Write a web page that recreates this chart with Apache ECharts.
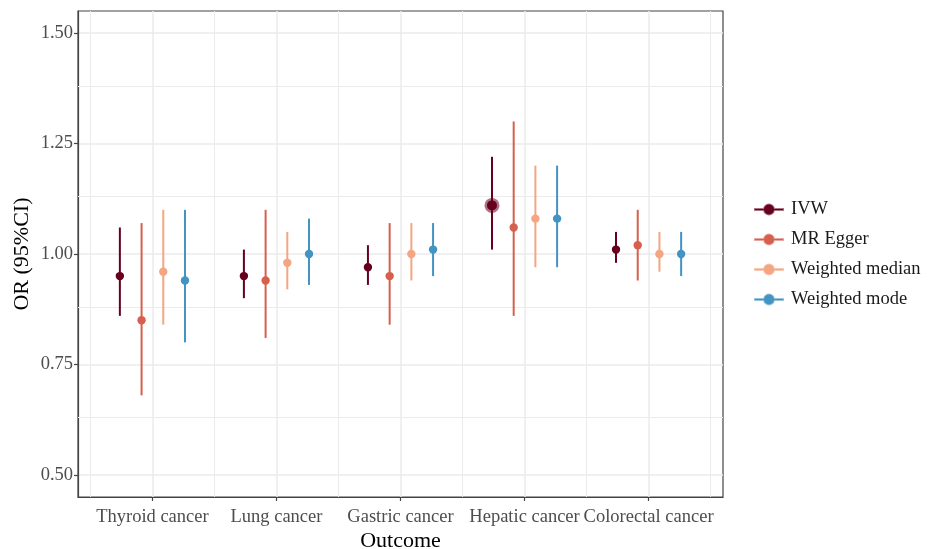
<!DOCTYPE html>
<html>
<head>
<meta charset="utf-8">
<script src="https://cdn.jsdelivr.net/npm/echarts@6/dist/echarts.min.js"></script>
<style>
  html, body { margin: 0; padding: 0; background: #fff; }
  #chart { width: 934px; height: 549px; }
</style>
</head>
<body>
<div id="chart"></div>
<script>
// outcomes on the x axis
const outcomes = ['Thyroid cancer', 'Lung cancer', 'Gastric cancer', 'Hepatic cancer', 'Colorectal cancer']
const methods = ['IVW', 'MR Egger', 'Weighted median', 'Weighted mode']

// OR estimates per method (same order as outcomes)
const orIVW = [0.95, 0.95, 0.97, 1.11, 1.01]
const orEgger = [0.85, 0.94, 0.95, 1.06, 1.02]
const orMedian = [0.96, 0.98, 1.00, 1.08, 1.00]
const orMode = [0.94, 1.00, 1.01, 1.08, 1.00]

// 95% CI lower bounds
const lowIVW = [0.86, 0.90, 0.93, 1.01, 0.98]
const lowEgger = [0.68, 0.81, 0.84, 0.86, 0.94]
const lowMedian = [0.84, 0.92, 0.94, 0.97, 0.96]
const lowMode = [0.80, 0.93, 0.95, 0.97, 0.95]

// 95% CI upper bounds
const upIVW = [1.06, 1.01, 1.02, 1.22, 1.05]
const upEgger = [1.07, 1.10, 1.07, 1.30, 1.10]
const upMedian = [1.10, 1.05, 1.07, 1.20, 1.05]
const upMode = [1.10, 1.08, 1.07, 1.20, 1.05]

// y axis ticks
const yTicks = [0.50, 0.75, 1.00, 1.25, 1.50]

const colors = ['#67001F', '#D6604D', '#F4A582', '#4393C3']
const ringColors = ['rgba(103,0,31,0.55)', 'rgba(214,96,77,0.55)', 'rgba(244,165,130,0.6)', 'rgba(67,147,195,0.55)']
const estimates = [orIVW, orEgger, orMedian, orMode]
const lowers = [lowIVW, lowEgger, lowMedian, lowMode]
const uppers = [upIVW, upEgger, upMedian, upMode]
// the point drawn bigger in the plot
const bigPoint = { method: 'IVW', outcome: 'Hepatic cancer' }

const font = 'Liberation Serif'
const dodge = 0.7

function renderItem(params, api) {
  const x = api.value(0)
  const top = api.coord([x, api.value(3)])
  const bot = api.coord([x, api.value(2)])
  const mid = api.coord([x, api.value(1)])
  const color = api.visual('color')
  const big = methods[params.seriesIndex] === bigPoint.method &&
    outcomes[params.dataIndex] === bigPoint.outcome
  const children = [
    { type: 'line', shape: { x1: top[0], y1: top[1], x2: bot[0], y2: bot[1] }, style: { stroke: color, lineWidth: 2 } }
  ]
  if (big) {
    children.push({ type: 'circle', shape: { cx: mid[0], cy: mid[1], r: 7.5 }, style: { fill: ringColors[params.seriesIndex] } })
    children.push({ type: 'circle', shape: { cx: mid[0], cy: mid[1], r: 5 }, style: { fill: color } })
  } else {
    children.push({ type: 'circle', shape: { cx: mid[0], cy: mid[1], r: 4.2 }, style: { fill: color } })
  }
  return { type: 'group', children: children }
}

const series = methods.map((m, k) => ({
  name: m,
  type: 'custom',
  z: 3,
  itemStyle: { color: colors[k] },
  renderItem: renderItem,
  data: outcomes.map((o, i) => [i + 1 + (k - 1.5) * dodge / methods.length, estimates[k][i], lowers[k][i], uppers[k][i]])
}))

// minor grid lines (ggplot style)
series.push({
  name: 'minor',
  type: 'custom',
  z: 1,
  silent: true,
  renderItem: () => null,
  data: [],
  markLine: {
    silent: true,
    z: 1,
    symbol: 'none',
    label: { show: false },
    lineStyle: { color: '#EBEBEB', width: 1, type: 'solid' },
    data: [0.625, 0.875, 1.125, 1.375].map(v => ({ yAxis: v }))
      .concat([0.5, 1.5, 2.5, 3.5, 4.5, 5.5].map(v => ({ xAxis: v })))
  }
})

const legendIcon = 'path://M0,6L28,6L28,7L0,7Z M9,6.5A5,5 0 1,1 19,6.5A5,5 0 1,1 9,6.5Z'

const myChart = echarts.init(document.getElementById('chart'))
const option = {
  backgroundColor: '#fff',
  animation: false,
  grid: {
    left: 78,
    right: 211,
    top: 11,
    bottom: 52,
    outerBoundsMode: 'none',
    show: true,
    borderColor: '#444',
    borderWidth: 1.2
  },
  legend: {
    orient: 'vertical',
    left: 749,
    top: 195,
    itemWidth: 28,
    itemHeight: 13,
    itemGap: 11,
    textStyle: { fontFamily: font, fontSize: 18.5, color: '#1a1a1a', lineHeight: 18, padding: [0, 0, 0, 3] },
    data: methods.map((m, k) => ({
      name: m,
      icon: legendIcon,
      itemStyle: { color: colors[k], borderColor: ringColors[k], borderWidth: 2 }
    }))
  },
  xAxis: {
    type: 'value',
    min: 0.4,
    max: 5.6,
    name: 'Outcome',
    nameLocation: 'middle',
    nameGap: 33,
    nameMoveOverlap: false,
    nameTextStyle: { fontFamily: font, fontSize: 22, color: '#000' },
    axisLine: { show: true, lineStyle: { color: '#444', width: 1.2 } },
    axisTick: { show: true, length: 4, customValues: [1, 2, 3, 4, 5], lineStyle: { color: '#444', width: 1.2 } },
    axisLabel: {
      customValues: [1, 2, 3, 4, 5],
      margin: 11,
      fontFamily: font,
      fontSize: 18.5,
      color: '#4D4D4D',
      formatter: v => outcomes[Math.round(v) - 1] || ''
    },
    splitLine: { show: true, lineStyle: { color: '#EBEBEB', width: 1.5 } }
  },
  yAxis: {
    type: 'value',
    min: 0.45,
    max: 1.55,
    name: 'OR (95%CI)',
    nameLocation: 'middle',
    nameGap: 45,
    nameMoveOverlap: false,
    nameTextStyle: { fontFamily: font, fontSize: 22, color: '#000' },
    axisLine: { show: true, lineStyle: { color: '#444', width: 1.2 } },
    axisTick: { show: true, length: 4, customValues: yTicks, lineStyle: { color: '#444', width: 1.2 } },
    axisLabel: {
      customValues: yTicks,
      margin: 5,
      fontFamily: font,
      fontSize: 18.5,
      color: '#4D4D4D',
      formatter: v => v.toFixed(2)
    },
    splitLine: { show: true, lineStyle: { color: '#EBEBEB', width: 1.5 } }
  },
  series: series
}
option && myChart.setOption(option)
</script>
</body>
</html>
